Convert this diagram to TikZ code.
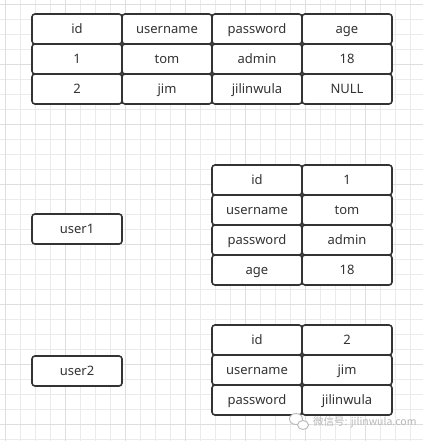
\documentclass[tikz,border=0pt]{standalone}
\usepackage{fontspec}
\setmainfont{Noto Sans}
\newfontfamily\cjk{Noto Sans CJK SC}
\usetikzlibrary{positioning}
\definecolor{boxline}{HTML}{333333}
\definecolor{gridminor}{HTML}{EBEBEB}
\definecolor{gridmajor}{HTML}{DEDEDE}
\definecolor{markgray}{HTML}{B8B8B8}

\begin{document}
\begin{tikzpicture}[x=1pt, y=-1pt,
    cell/.style={rectangle, rounded corners=3pt, draw=boxline, line width=1.6pt, fill=white, text=boxline,
      minimum width=90pt, minimum height=30pt, outer sep=0pt, inner sep=0pt, text height=11pt, text depth=2pt,
      font=\fontsize{13}{15}\selectfont}]
    \useasboundingbox (0,0) rectangle (423,441);
    \fill[white] (0,0) rectangle (423,441);%page
    \foreach \i in {0,...,27} \draw[gridminor, line width=0.8pt] (5.7+15*\i,0) -- (5.7+15*\i,441);%columns of the grid
    \foreach \j in {0,...,29} \draw[gridminor, line width=0.8pt] (0,4+15*\j) -- (423,4+15*\j);%rows of the grid
    \foreach \i in {0,...,6} \draw[gridmajor, line width=0.8pt] (5.7+60*\i,0) -- (5.7+60*\i,441);%major columns
    \foreach \j in {0,...,7} \draw[gridmajor, line width=0.8pt] (0,4+60*\j) -- (423,4+60*\j);%major rows

    \node (hid) [cell] at (77,29) {id};%header of the table
    \node (huser) [cell, right=0pt of hid] {username};
    \node (hpass) [cell, right=0pt of huser] {password};
    \node (hage) [cell, right=0pt of hpass] {age};
    \node (aid) [cell, below=0pt of hid] {1};%row of tom
    \node (auser) [cell, right=0pt of aid] {tom};
    \node (apass) [cell, right=0pt of auser] {admin};
    \node (aage) [cell, right=0pt of apass] {18};
    \node (bid) [cell, below=0pt of aid] {2};%row of jim
    \node (buser) [cell, right=0pt of bid] {jim};
    \node (bpass) [cell, right=0pt of buser] {jilinwula};
    \node (bage) [cell, right=0pt of bpass] {NULL};

    \node (user1) [cell] at (77,229) {user1};%first object
    \node (uid) [cell] at (257,180) {id};
    \node (uidv) [cell, right=0pt of uid] {1};
    \node (uname) [cell, below=0pt of uid] {username};
    \node (unamev) [cell, right=0pt of uname] {tom};
    \node (upass) [cell, below=0pt of uname] {password};
    \node (upassv) [cell, right=0pt of upass] {admin};
    \node (uage) [cell, below=0pt of upass] {age};
    \node (uagev) [cell, right=0pt of uage] {18};

    \node (user2) [cell] at (77,371) {user2};%second object
    \node (vid) [cell] at (257,340) {id};
    \node (vidv) [cell, right=0pt of vid] {2};
    \node (vname) [cell, below=0pt of vid] {username};
    \node (vnamev) [cell, right=0pt of vname] {jim};
    \node (vpass) [cell, below=0pt of vname] {password};
    \node (vpassv) [cell, right=0pt of vpass] {jilinwula};

    \draw[markgray, line width=0.9pt, fill=white] (296,419) ellipse (6.5 and 5.5);%wechat mark
    \draw[markgray, line width=0.9pt, fill=white] (303,425) ellipse (5.5 and 4.5);
    \node (mark) [text=markgray, anchor=west, inner sep=0pt, font=\cjk\fontsize{10.5}{12}\selectfont] at (313,422) {微信号: jilinwula.com};
  \end{tikzpicture}
\end{document}
